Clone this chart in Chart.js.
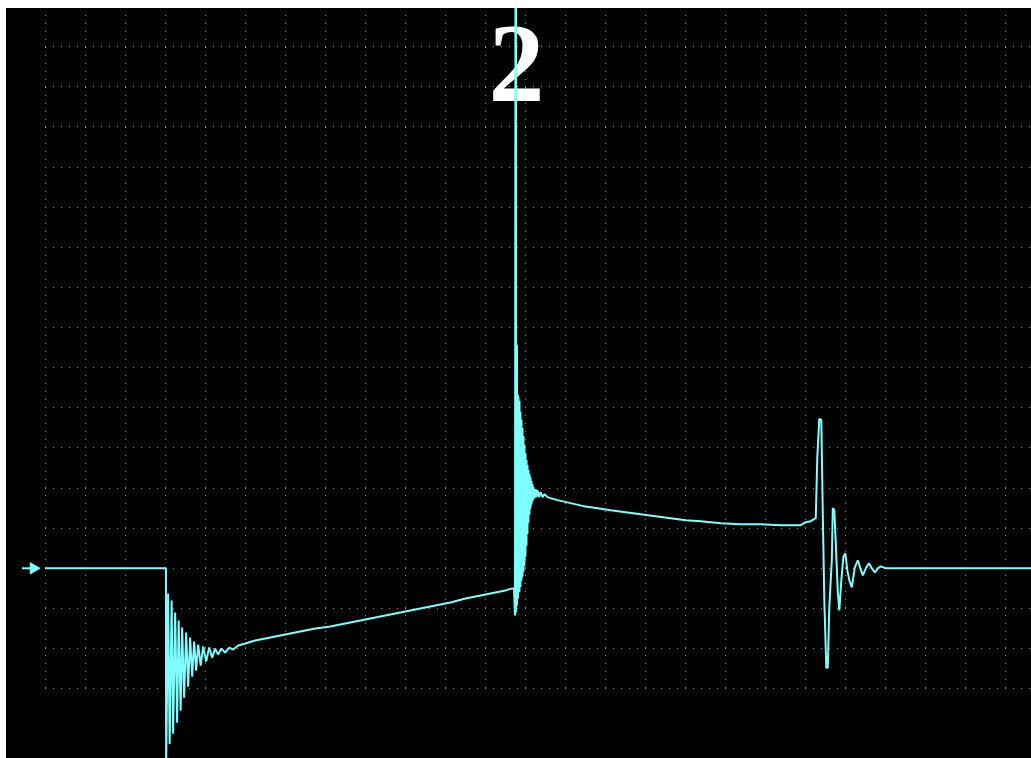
<!DOCTYPE html>
<html>
<head>
<meta charset="utf-8">
<script src="https://cdn.jsdelivr.net/npm/chart.js@4/dist/chart.umd.min.js"></script>
<style>
  html, body { margin: 0; padding: 0; background: #ffffff; width: 1031px; height: 758px; overflow: hidden; }
  #scope { position: absolute; left: 6px; top: 8px; background: #000000; }
</style>
</head>
<body>
<canvas id="scope" width="1025" height="750"></canvas>
<script>
// Channel 2 capture: time in µs (10 µs/div), voltage in V (10 V/div), 0 V = trace baseline.

// Division lines
const timeTicks = [0, 10, 20, 30, 40, 50, 60, 70, 80, 90, 100, 110, 120, 130, 140, 150, 160, 170, 180, 190, 200, 210, 220, 230, 240];
const voltTicks = [-30, -20, -10, 0, 10, 20, 30, 40, 50, 60, 70, 80, 90, 100, 110, 120, 130];

// Idle level before the switching edge
const leadIn = [[0, 0], [30.2, 0]];

// Falling edge and its ringing
const fallRing = [
  [30.25, -50.5], [30.75, -6.25], [31.13, -43.75], [31.63, -8], [32.0, -41.25],
  [32.5, -11], [33.0, -38.5], [33.38, -13], [33.88, -35.5], [34.25, -14.75],
  [34.75, -32.25], [35.25, -16], [35.75, -29.5], [36.25, -17.25], [36.75, -27],
  [37.25, -18.25], [37.75, -25.5], [38.25, -19], [38.88, -24.25], [39.5, -19.5],
  [40.25, -23.25], [41.0, -19.75], [41.75, -22.25], [42.5, -20], [43.25, -21.5],
  [44.0, -20], [45.0, -21], [46.0, -19.75], [47.0, -20.25], [48.25, -19.25]
];

// Slow recovery ramp during the low phase
const rampUp = [
  [50, -18.75], [52.5, -18], [55, -17.5], [57.5, -17], [60, -16.5],
  [63.75, -15.75], [67.5, -15], [71.25, -14.5], [75, -13.75], [78.75, -13],
  [82.5, -12.25], [86.25, -11.5], [90, -10.75], [93.75, -10], [97.5, -9.25],
  [101.25, -8.5], [105, -7.5], [108.75, -6.75], [112.5, -6], [115, -5.5],
  [116.75, -5], [117.13, -5]
];

// Rising edge: overshoot spike and dense ringing
const spikeRing = [
  [117.38, -11.75], [117.5, 150], [117.63, -11], [117.75, 55.75], [117.88, -9.25],
  [118.0, 43.25], [118.13, -7.5], [118.25, 42.75], [118.38, -5.75], [118.5, 41.75],
  [118.63, -4.5], [118.75, 39], [118.88, -3], [119.0, 37], [119.13, -2],
  [119.25, 35], [119.38, -0.75], [119.5, 33], [119.63, 0.75], [119.75, 30.75],
  [119.88, 3], [120.0, 28.75], [120.13, 5.75], [120.25, 27], [120.38, 8.75],
  [120.5, 25.75], [120.63, 11.5], [120.75, 24.5], [120.88, 13.5], [121.0, 23.5],
  [121.13, 15], [121.25, 22.75], [121.38, 16], [121.5, 21.75], [121.63, 16.75],
  [121.75, 21], [121.88, 17.25], [122.0, 20.25], [122.25, 17.5], [122.5, 19.75],
  [122.75, 17.75], [123.0, 19.5], [123.38, 17.75], [123.75, 19], [124.25, 17.75],
  [124.75, 18.5], [125.5, 17.75]
];

// Droop during the high phase
const decay = [
  [126.25, 17.5], [128, 17], [131.25, 16.25], [134.5, 15.5], [138, 15],
  [141.25, 14.5], [145, 14], [148.75, 13.5], [152.5, 13], [156.25, 12.5],
  [160, 12], [163.75, 11.75], [168.75, 11.25], [173.75, 11], [178.75, 11],
  [183.75, 10.75], [188.75, 10.75], [190, 11.5], [191.25, 11.75], [192.5, 12.5]
];

// Turn-off transient settling back to the idle level
const tailRing = [
  [192.88, 27.75], [193.38, 37.25], [193.88, 37], [194.25, 13.75], [194.63, -8],
  [195.13, -24.75], [195.5, -24.75], [195.88, -9.75], [196.5, 2], [196.75, 15],
  [197.13, 14.5], [197.5, 6.25], [198, -6], [198.38, -10.5], [198.88, -3],
  [199.38, 2.75], [199.88, 3.75], [200.38, -0.5], [200.88, -3], [201.5, -4.75],
  [202.25, 0.25], [203, 2], [203.63, 0], [204.25, -1.75], [205, 0],
  [205.75, 1.25], [206.5, 0], [207.25, -1], [208, 0], [208.75, 0.5],
  [210, 0], [248.75, 0]
];

// Ground-level marker at the left edge
const markerTail = -5.75;
const markerTip = -2.875;

const channelLabel = '2';
const traceColor = '#80ffff';

const traceData = [...leadIn, ...fallRing, ...rampUp, ...spikeRing, ...decay, ...tailRing]
  .map(([t, v]) => ({ x: t, y: v }));

// Channel number drawn under the trace
const channelLabelPlugin = {
  id: 'channelLabel',
  beforeDatasetsDraw(chart) {
    const { ctx, scales } = chart;
    const cx = scales.x.getPixelForValue(117.75);
    const base = scales.y.getPixelForValue(116.5);
    ctx.save();
    ctx.fillStyle = '#ffffff';
    ctx.font = 'bold 112px "Liberation Serif", "Times New Roman", serif';
    ctx.textAlign = 'center';
    ctx.textBaseline = 'alphabetic';
    ctx.fillText(channelLabel, cx, base);
    ctx.restore();
  }
};

// Ground arrow head: sits left of the plot area, where the line controller skips points
const groundArrowPlugin = {
  id: 'groundArrow',
  afterDatasetsDraw(chart) {
    const meta = chart.getDatasetMeta(1);
    const tip = meta.data[1];
    if (!tip) return;
    const ctx = chart.ctx;
    ctx.save();
    ctx.fillStyle = traceColor;
    ctx.strokeStyle = traceColor;
    ctx.lineWidth = 1;
    Chart.helpers.drawPoint(ctx, { pointStyle: 'triangle', rotation: 90, radius: 6.5, borderWidth: 1 }, tip.x, tip.y);
    ctx.restore();
  }
};

new Chart(document.getElementById('scope'), {
  type: 'line',
  data: {
    datasets: [
      {
        label: 'CH2',
        data: traceData,
        borderColor: traceColor,
        borderWidth: 2,
        borderJoinStyle: 'bevel',
        pointRadius: 0,
        tension: 0,
        clip: false
      },
      {
        label: 'GND',
        data: [{ x: markerTail, y: 0 }, { x: markerTip, y: 0 }],
        borderColor: traceColor,
        borderWidth: 2,
        pointRadius: 0,
        clip: false
      }
    ]
  },
  options: {
    responsive: false,
    animation: false,
    events: [],
    layout: { autoPadding: false, padding: { left: 39, right: 0, top: 0, bottom: 69.3 } },
    plugins: { legend: { display: false }, tooltip: { enabled: false }, title: { display: false } },
    scales: {
      x: {
        type: 'linear',
        min: 0,
        max: 246.25,
        afterBuildTicks: (axis) => { axis.ticks = timeTicks.map(v => ({ value: v })); },
        afterFit: (axis) => { axis.height = 0; },
        ticks: { display: false },
        grid: { color: '#9a9a9a', lineWidth: 1, drawTicks: false },
        border: { display: false, dash: [1, 7], dashOffset: 1 }
      },
      y: {
        type: 'linear',
        min: -30,
        max: 139.65,
        afterBuildTicks: (axis) => { axis.ticks = voltTicks.map(v => ({ value: v })); },
        afterFit: (axis) => { axis.width = 0; },
        ticks: { display: false },
        grid: { color: '#9a9a9a', lineWidth: 1, drawTicks: false },
        border: { display: false, dash: [1, 7], dashOffset: 0 }
      }
    }
  },
  plugins: [channelLabelPlugin, groundArrowPlugin]
});
</script>
</body>
</html>
